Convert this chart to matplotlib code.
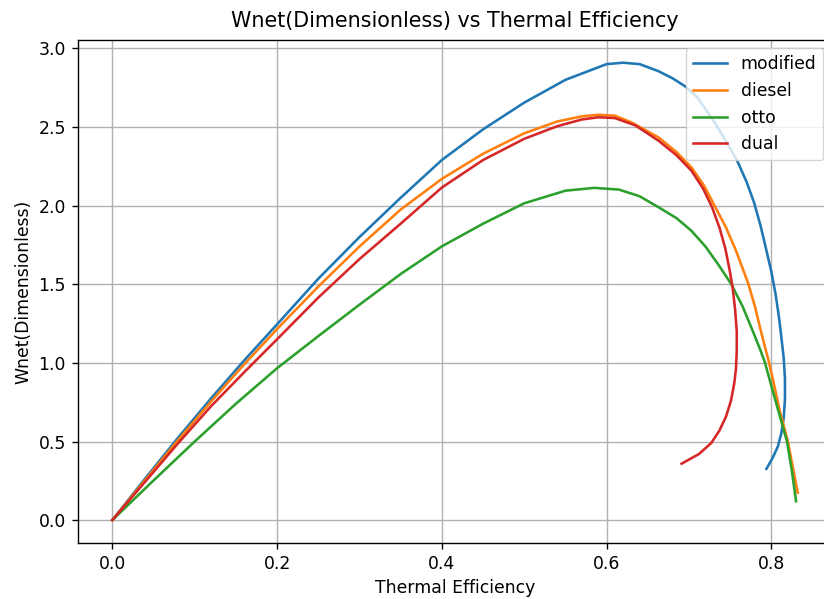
import matplotlib
matplotlib.use("Agg")
import matplotlib.pyplot as plt

# values
modified_x = [0, 0.04, 0.08, 0.12, 0.16, 0.20, 0.25, 0.30, 0.35, 0.40, 0.45, 0.50,
              0.55, 0.60, 0.62, 0.64, 0.663, 0.68, 0.695, 0.71, 0.731, 0.745, 0.759,
              0.77, 0.779, 0.787, 0.794, 0.80, 0.805, 0.809, 0.812, 0.815, 0.8165,
              0.8165, 0.815, 0.812, 0.808, 0.802, 0.794]
modified_y = [0, 0.265, 0.525, 0.775, 1.015, 1.245, 1.535, 1.80, 2.05, 2.29, 2.485, 2.655,
              2.80, 2.90, 2.909, 2.90, 2.855, 2.81, 2.76, 2.69, 2.53, 2.41, 2.28,
              2.15, 2.02, 1.87, 1.715, 1.58, 1.44, 1.30, 1.17, 1.03, 0.90,
              0.77, 0.65, 0.55, 0.47, 0.40, 0.326]

diesel_x = [0, 0.04, 0.08, 0.12, 0.16, 0.20, 0.25, 0.30, 0.35, 0.40, 0.45, 0.50,
            0.54, 0.57, 0.59, 0.61, 0.63, 0.663, 0.685, 0.703, 0.718, 0.731, 0.745,
            0.757, 0.772, 0.78, 0.787, 0.797, 0.802, 0.81, 0.82, 0.832]
diesel_y = [0, 0.255, 0.51, 0.755, 0.99, 1.215, 1.485, 1.74, 1.975, 2.17, 2.33, 2.46,
            2.535, 2.568, 2.578, 2.572, 2.53, 2.434, 2.34, 2.243, 2.13, 2.0, 1.86,
            1.715, 1.504, 1.36, 1.208, 1.006, 0.892, 0.70, 0.5, 0.174]

otto_x = [0, 0.05, 0.10, 0.15, 0.20, 0.25, 0.30, 0.35, 0.40, 0.45, 0.50, 0.55,
          0.585, 0.615, 0.64, 0.663, 0.685, 0.703, 0.72, 0.735, 0.751, 0.765, 0.777,
          0.786, 0.792, 0.798, 0.805, 0.812, 0.819, 0.825, 0.830]
otto_y = [0, 0.252, 0.5, 0.74, 0.966, 1.17, 1.37, 1.565, 1.741, 1.885, 2.015, 2.095,
          2.113, 2.102, 2.06, 1.99, 1.92, 1.84, 1.74, 1.63, 1.504, 1.36, 1.208,
          1.09, 1.006, 0.892, 0.76, 0.63, 0.5, 0.31, 0.12]

dual_x = [0, 0.04, 0.08, 0.12, 0.16, 0.20, 0.25, 0.30, 0.35, 0.40, 0.45, 0.50,
          0.54, 0.57, 0.59, 0.61, 0.635, 0.663, 0.685, 0.703, 0.717, 0.728, 0.737,
          0.744, 0.749, 0.753, 0.756, 0.758, 0.758, 0.757, 0.755, 0.751, 0.745,
          0.737, 0.727, 0.712, 0.691]
dual_y = [0, 0.245, 0.49, 0.725, 0.94, 1.15, 1.415, 1.66, 1.885, 2.115, 2.29, 2.425,
          2.505, 2.548, 2.562, 2.557, 2.51, 2.413, 2.32, 2.222, 2.11, 1.99, 1.86,
          1.73, 1.60, 1.48, 1.34, 1.20, 1.08, 0.96, 0.871, 0.76, 0.659,
          0.57, 0.49, 0.42, 0.359]

s = 1.24  # reference was drawn a bit larger than matplotlib defaults
plt.rcParams.update({
    'font.size': 10 * s,
    'lines.linewidth': 1.5 * s,
    'axes.linewidth': 0.8 * s,
    'grid.linewidth': 0.8 * s,
    'xtick.major.size': 3.5 * s,
    'ytick.major.size': 3.5 * s,
    'xtick.major.width': 0.8 * s,
    'ytick.major.width': 0.8 * s,
    'xtick.major.pad': 3.5 * s,
    'ytick.major.pad': 3.5 * s,
})

fig = plt.figure(figsize=(8.24, 5.99), dpi=100)
ax = fig.add_axes([0.0947, 0.0935, 0.915, 0.840])

ax.plot(modified_x, modified_y, label='modified')
ax.plot(diesel_x, diesel_y, label='diesel')
ax.plot(otto_x, otto_y, label='otto')
ax.plot(dual_x, dual_y, label='dual')

ax.set_title('Wnet(Dimensionless) vs Thermal Efficiency', pad=9)
ax.set_xlabel('Thermal Efficiency')
ax.set_ylabel('Wnet(Dimensionless)')
ax.grid(True)
ax.legend(loc='upper right')

fig.savefig('out.png', dpi=100)
